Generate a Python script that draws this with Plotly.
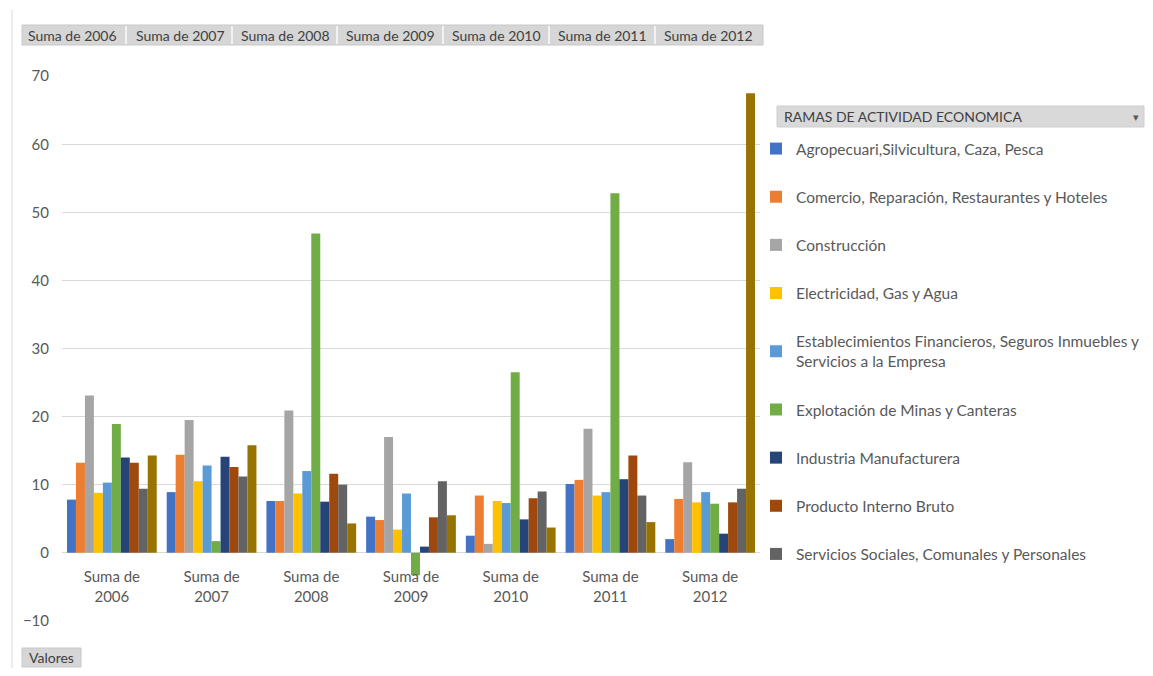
import plotly.graph_objects as go

categories = ["Suma de<br>2006", "Suma de<br>2007", "Suma de<br>2008", "Suma de<br>2009",
              "Suma de<br>2010", "Suma de<br>2011", "Suma de<br>2012"]
header_labels = ["Suma de 2006", "Suma de 2007", "Suma de 2008", "Suma de 2009",
                 "Suma de 2010", "Suma de 2011", "Suma de 2012"]

agro = [7.8, 8.9, 7.6, 5.3, 2.5, 10.1, 2.0]
comercio = [13.2, 14.4, 7.6, 4.8, 8.4, 10.7, 7.9]
construccion = [23.1, 19.5, 20.9, 17.0, 1.3, 18.2, 13.3]
electricidad = [8.8, 10.5, 8.7, 3.4, 7.6, 8.4, 7.4]
establecimientos = [10.3, 12.8, 12.0, 8.7, 7.3, 8.9, 8.9]
explotacion = [18.9, 1.7, 46.9, -3.3, 26.5, 52.8, 7.2]
industria = [14.0, 14.1, 7.5, 0.9, 4.9, 10.8, 2.8]
pib = [13.2, 12.6, 11.6, 5.2, 8.0, 14.3, 7.4]
servicios = [9.4, 11.2, 10.0, 10.5, 9.0, 8.4, 9.4]
transporte = [14.3, 15.8, 4.3, 5.5, 3.7, 4.5, 67.5]

series = [
    ("Agropecuari,Silvicultura, Caza, Pesca", agro, "#4472C4", True),
    ("Comercio, Reparación, Restaurantes y Hoteles", comercio, "#ED7D31", True),
    ("Construcción", construccion, "#A5A5A5", True),
    ("Electricidad, Gas y Agua", electricidad, "#FFC000", True),
    ("Establecimientos Financieros, Seguros Inmuebles y<br>Servicios a la Empresa", establecimientos, "#5B9BD5", True),
    ("Explotación de Minas y Canteras", explotacion, "#70AD47", True),
    ("Industria Manufacturera", industria, "#264478", True),
    ("Producto Interno Bruto", pib, "#9E480E", True),
    ("Servicios Sociales, Comunales y Personales", servicios, "#636363", True),
    ("Transporte, Almacenamiento y Comunicaciones", transporte, "#997300", False),
]

OFF = 8  # page body margin
SW, SH = 1153, 676
W, H = SW - 2 * OFF, SH - 2 * OFF
L, R, T, B = 62, 760, 76, 621  # screen pixel plot area


def px(x):
    return (x - L) / (R - L)


def py(y):
    return (B - y) / (B - T)


fig = go.Figure()
for i, (name, vals, col, show) in enumerate(series):
    fig.add_trace(go.Bar(x=categories, y=vals, name=name, marker_color=col,
                         marker_line_width=0, showlegend=show,
                         legendgroup=f"g{i}"))

font_family = "Lato, Open Sans, sans-serif"
txt = "#595959"

fig.update_layout(
    width=W, height=H,
    margin=dict(l=L - OFF, r=(OFF + W) - R, t=T - OFF, b=(OFF + H) - B, pad=0,
                autoexpand=False),
    paper_bgcolor="white", plot_bgcolor="white",
    barmode="group", bargap=0.1, bargroupgap=0,
    font=dict(family=font_family, size=14, color=txt),
    xaxis=dict(anchor="free", position=py(553), showline=False, showgrid=False,
               ticks="", tickfont=dict(size=15, color=txt), ticklabelstandoff=13,
               automargin=False),
    yaxis=dict(range=[-10.03, 70.03], tickvals=[-10, 0, 10, 20, 30, 40, 50, 60, 70],
               showgrid=True, gridcolor="#D9D9D9",
               gridwidth=1, zeroline=True, zerolinecolor="#D9D9D9", zerolinewidth=1,
               showline=False, ticks="", tickfont=dict(size=15, color=txt),
               ticklabelstandoff=12, automargin=False),
    legend=dict(x=px(756), y=py(132), xanchor="left", yanchor="top",
                traceorder="grouped", tracegroupgap=25,
                font=dict(size=15.5, color=txt, family=font_family),
                itemwidth=30, bgcolor="rgba(0,0,0,0)"),
    showlegend=True,
)

shapes = []
annotations = []
# top field button strip
shapes.append(dict(type="rect", xref="paper", yref="paper",
                   x0=px(22), x1=px(763), y0=py(45), y1=py(25),
                   fillcolor="#D6D6D6", line=dict(color="#C8C8C8", width=1)))
centers = [72, 180, 285, 390, 496, 602, 708]
seps = [126, 232, 337, 443, 549, 655]
for s in seps:
    shapes.append(dict(type="line", xref="paper", yref="paper",
                       x0=px(s), x1=px(s), y0=py(44), y1=py(26),
                       line=dict(color="#F2F2F2", width=2)))
for c, lab in zip(centers, header_labels):
    annotations.append(dict(xref="paper", yref="paper", x=px(c), y=py(35),
                            text=lab, showarrow=False, xanchor="center", yanchor="middle",
                            font=dict(size=14, color="#404040")))
# legend title bar
shapes.append(dict(type="rect", xref="paper", yref="paper",
                   x0=px(777), x1=px(1144), y0=py(127), y1=py(106),
                   fillcolor="#D9D9D9", line=dict(color="#CFCFCF", width=1)))
annotations.append(dict(xref="paper", yref="paper", x=px(782), y=py(116.5),
                        text="RAMAS DE ACTIVIDAD ECONOMICA", showarrow=False,
                        xanchor="left", yanchor="middle",
                        font=dict(size=14, color="#404040")))
annotations.append(dict(xref="paper", yref="paper", x=px(1136), y=py(116.5),
                        text="▾", showarrow=False, xanchor="center", yanchor="middle",
                        font=dict(size=11, color="#595959")))
# Valores button
shapes.append(dict(type="rect", xref="paper", yref="paper",
                   x0=px(22), x1=px(81), y0=py(667), y1=py(648),
                   fillcolor="#D6D6D6", line=dict(color="#C8C8C8", width=1)))
annotations.append(dict(xref="paper", yref="paper", x=px(51.5), y=py(657.5),
                        text="Valores", showarrow=False, xanchor="center", yanchor="middle",
                        font=dict(size=14, color="#404040")))
# left frame line
shapes.append(dict(type="line", xref="paper", yref="paper",
                   x0=px(12), x1=px(12), y0=py(10), y1=py(668),
                   line=dict(color="#D9D9D9", width=1)))

fig.update_layout(shapes=shapes, annotations=annotations)
fig.write_html("out.html")
